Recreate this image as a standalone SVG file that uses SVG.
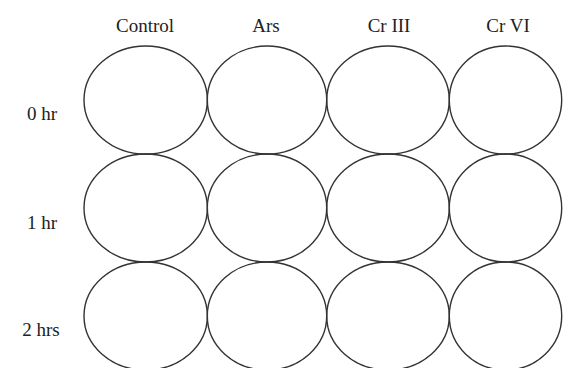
<svg xmlns="http://www.w3.org/2000/svg" width="563" height="368" viewBox="0 0 563 368">
  <style>
    .well { fill: none; stroke: #333; stroke-width: 1.4; }
    .lbl { font-family: "Liberation Serif", "Times New Roman", serif; font-size: 19px; fill: #222; text-anchor: middle; }
  </style>
  <rect width="563" height="368" fill="#fff"/>
  <!-- column headings -->
  <g id="headings">
    <text class="lbl" x="145" y="32">Control</text>
    <text class="lbl" x="266" y="32">Ars</text>
    <text class="lbl" x="389" y="32">Cr III</text>
    <text class="lbl" x="508" y="32">Cr VI</text>
  </g>
  <!-- row headings -->
  <g id="rows">
    <text class="lbl" x="42" y="120">0 hr</text>
    <text class="lbl" x="42" y="229">1 hr</text>
    <text class="lbl" x="41" y="336">2 hrs</text>
  </g>
  <!-- wells: 4 treatments x 3 time points -->
  <g id="row0">
    <ellipse id="w-control-0" class="well" cx="145.7" cy="100" rx="61.7" ry="54"/>
    <ellipse id="w-ars-0" class="well" cx="267" cy="100" rx="59.7" ry="54"/>
    <ellipse id="w-cr3-0" class="well" cx="388" cy="100" rx="61.3" ry="54"/>
    <ellipse id="w-cr6-0" class="well" cx="505.5" cy="100" rx="56.2" ry="54"/>
  </g>
  <g id="row1">
    <ellipse id="w-control-1" class="well" cx="145.7" cy="208" rx="61.7" ry="54"/>
    <ellipse id="w-ars-1" class="well" cx="267" cy="208" rx="59.7" ry="54"/>
    <ellipse id="w-cr3-1" class="well" cx="388" cy="208" rx="61.3" ry="54"/>
    <ellipse id="w-cr6-1" class="well" cx="505.5" cy="208" rx="56.2" ry="54"/>
  </g>
  <g id="row2">
    <ellipse id="w-control-2" class="well" cx="145.7" cy="316" rx="61.7" ry="54"/>
    <ellipse id="w-ars-2" class="well" cx="267" cy="316" rx="59.7" ry="54"/>
    <ellipse id="w-cr3-2" class="well" cx="388" cy="316" rx="61.3" ry="54"/>
    <ellipse id="w-cr6-2" class="well" cx="505.5" cy="316" rx="56.2" ry="54"/>
  </g>
  <g id="connectors"/>
</svg>
